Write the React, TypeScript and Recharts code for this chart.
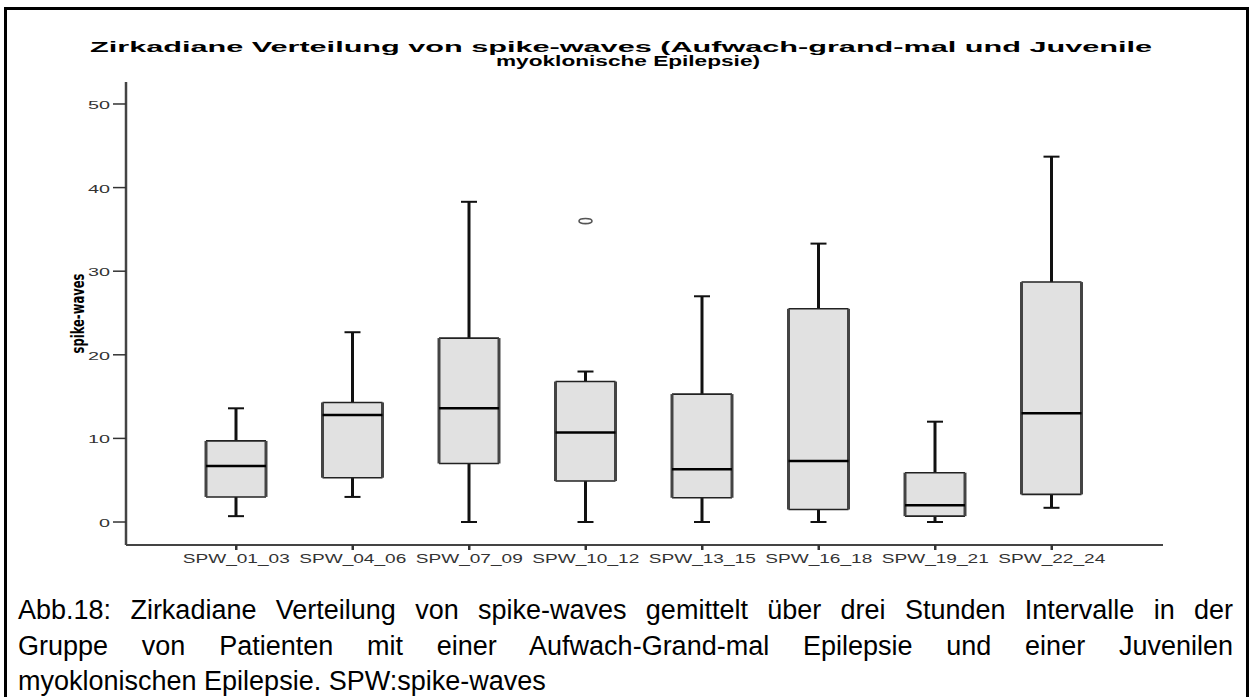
import React from 'react';
import { ComposedChart, Bar, XAxis, YAxis } from 'recharts';

// spike-waves per three-hour interval
const categories = ['SPW_01_03', 'SPW_04_06', 'SPW_07_09', 'SPW_10_12', 'SPW_13_15', 'SPW_16_18', 'SPW_19_21', 'SPW_22_24'];
const whiskerLow = [0.7, 3.0, 0, 0, 0, 0, 0, 1.7];
const q1Values = [3.0, 5.3, 7.0, 4.9, 2.9, 1.5, 0.7, 3.3];
const medians = [6.7, 12.8, 13.6, 10.7, 6.3, 7.3, 2.0, 13.0];
const q3Values = [9.7, 14.3, 22.0, 16.8, 15.3, 25.5, 5.9, 28.7];
const whiskerHigh = [13.6, 22.7, 38.3, 18.0, 27.0, 33.3, 12.0, 43.7];
const outliers: number[][] = [[], [], [], [36.0], [], [], [], []];
const yTicks = [0, 10, 20, 30, 40, 50];

const titleLines = [
  'Zirkadiane Verteilung von spike-waves (Aufwach-grand-mal und Juvenile',
  'myoklonische Epilepsie)',
];
const captionLines = [
  'Abb.18: Zirkadiane Verteilung von spike-waves gemittelt über drei Stunden Intervalle in der',
  'Gruppe von Patienten mit einer Aufwach-Grand-mal Epilepsie und einer Juvenilen',
  'myoklonischen Epilepsie. SPW:spike-waves',
];

const data = categories.map((name, i) => ({
  name,
  box: [q1Values[i], q3Values[i]],
  low: whiskerLow[i],
  median: medians[i],
  high: whiskerHigh[i],
  outliers: outliers[i],
}));

const FONT = "'Liberation Sans', Arial, sans-serif";

const BoxShape = (props: any) => {
  const { x, y, width, height, payload } = props;
  const [lo, hi] = payload.box;
  const top = Math.min(y, y + height);
  const h = Math.abs(height);
  const unit = h / (hi - lo);
  const py = (v: number) => top + (hi - v) * unit;
  const cx = x + width / 2;
  const left = x;
  const right = x + width;
  const capHalf = 8;
  return (
    <g>
      {/* whiskers */}
      <line x1={cx} x2={cx} y1={py(payload.high)} y2={top} stroke="#111" strokeWidth={3} />
      <line x1={cx - capHalf} x2={cx + capHalf} y1={py(payload.high)} y2={py(payload.high)} stroke="#111" strokeWidth={2} />
      <line x1={cx} x2={cx} y1={top + h} y2={py(payload.low)} stroke="#111" strokeWidth={3} />
      <line x1={cx - capHalf} x2={cx + capHalf} y1={py(payload.low)} y2={py(payload.low)} stroke="#111" strokeWidth={2} />
      {/* box */}
      <rect x={left} y={top} width={width} height={h} fill="#e1e1e1" />
      <line x1={left} x2={right} y1={top} y2={top} stroke="#222" strokeWidth={1.6} />
      <line x1={left} x2={right} y1={top + h} y2={top + h} stroke="#222" strokeWidth={1.6} />
      <line x1={left} x2={left} y1={top} y2={top + h} stroke="#444" strokeWidth={3} />
      <line x1={right} x2={right} y1={top} y2={top + h} stroke="#444" strokeWidth={3} />
      {/* median */}
      <line x1={left} x2={right} y1={py(payload.median)} y2={py(payload.median)} stroke="#000" strokeWidth={2.5} />
      {payload.outliers.map((v: number, k: number) => (
        <ellipse key={k} cx={cx} cy={py(v)} rx={6.5} ry={2.6} fill="#fff" stroke="#555" strokeWidth={1.6} />
      ))}
    </g>
  );
};

const XTick = (props: any) => {
  const { x, y, payload } = props;
  return (
    <text x={x} y={y} dy={11} textAnchor="middle" fontSize={12} fill="#333" fontFamily={FONT}
      textLength={107} lengthAdjust="spacingAndGlyphs">
      {payload.value}
    </text>
  );
};

const YTick = (props: any) => {
  const { x, y, payload } = props;
  const label = String(payload.value);
  return (
    <text x={x - 1} y={y} dy={5} textAnchor="end" fontSize={10} fill="#333" fontFamily={FONT}
      textLength={label.length * 11} lengthAdjust="spacingAndGlyphs">
      {label}
    </text>
  );
};

const YLabel = (props: any) => {
  const { viewBox } = props;
  const cx = viewBox.x + 77;
  const cy = viewBox.y + viewBox.height / 2;
  return (
    <text x={cx} y={cy} transform={`rotate(-90, ${cx}, ${cy})`} textAnchor="middle" dominantBaseline="central"
      fontSize={18} fontWeight="bold" fill="#000"
      fontFamily="'Liberation Sans Narrow', 'DejaVu Sans Condensed', 'Liberation Sans', sans-serif"
      textLength={80} lengthAdjust="spacingAndGlyphs">
      spike-waves
    </text>
  );
};

export default function App() {
  const domain: [number, number] = [-2.75, 52.63];
  return (
    <div style={{ position: 'absolute', left: 0, top: 0, width: 1251, height: 697, background: '#fff', overflow: 'hidden' }}>
      <div style={{ position: 'absolute', left: 4, top: 7, width: 1239, height: 720, border: '3px solid #000' }} />

      <div style={{ position: 'absolute', left: 0, top: 0 }}>
        <ComposedChart width={1251} height={600} data={data} margin={{ top: 82, right: 88, bottom: 25, left: 0 }}>
          <XAxis xAxisId="bottom" dataKey="name" interval={0} tickSize={5} tickMargin={2}
            tickLine={{ stroke: '#333', strokeWidth: 2.5 }} axisLine={{ stroke: '#444', strokeWidth: 2 }}
            padding={{ left: 52, right: 53 }} height={30} tick={<XTick />} />
          <XAxis xAxisId="top" orientation="top" dataKey="name" tick={false} tickLine={false}
            axisLine={{ stroke: '#444', strokeWidth: 1.5 }} height={0} padding={{ left: 52, right: 53 }} />
          <YAxis yAxisId="left" type="number" domain={domain} allowDataOverflow ticks={yTicks} interval={0}
            width={126} tickSize={13} tickMargin={2} tickLine={{ stroke: '#333', strokeWidth: 1.5 }}
            axisLine={{ stroke: '#444', strokeWidth: 2.5 }} tick={<YTick />} label={{ content: <YLabel /> } as any} />
          <YAxis yAxisId="right" orientation="right" type="number" domain={domain} allowDataOverflow
            tick={false} tickLine={false} width={0} axisLine={{ stroke: '#444', strokeWidth: 2 }} />
          <Bar xAxisId="bottom" yAxisId="left" dataKey="box" barSize={60} shape={<BoxShape />} isAnimationActive={false} />
        </ComposedChart>
      </div>

      <svg style={{ position: 'absolute', left: 0, top: 0 }} width={1251} height={80}>
        <text x={90} y={51.5} fontSize={14} fontWeight="bold" fontFamily={FONT} fill="#000"
          textLength={1062} lengthAdjust="spacingAndGlyphs">{titleLines[0]}</text>
        <text x={628} y={65.5} textAnchor="middle" fontSize={14} fontWeight="bold" fontFamily={FONT} fill="#000"
          textLength={264} lengthAdjust="spacingAndGlyphs">{titleLines[1]}</text>
      </svg>

      <div style={{ position: 'absolute', left: 18, top: 593, width: 1215, fontFamily: FONT, fontSize: 27, lineHeight: '35.5px', color: '#000' }}>
        <div style={{ textAlign: 'justify', textAlignLast: 'justify', whiteSpace: 'nowrap' }}>{captionLines[0]}</div>
        <div style={{ textAlign: 'justify', textAlignLast: 'justify' }}>{captionLines[1]}</div>
        <div style={{ textAlign: 'left' }}>{captionLines[2]}</div>
      </div>
    </div>
  );
}
